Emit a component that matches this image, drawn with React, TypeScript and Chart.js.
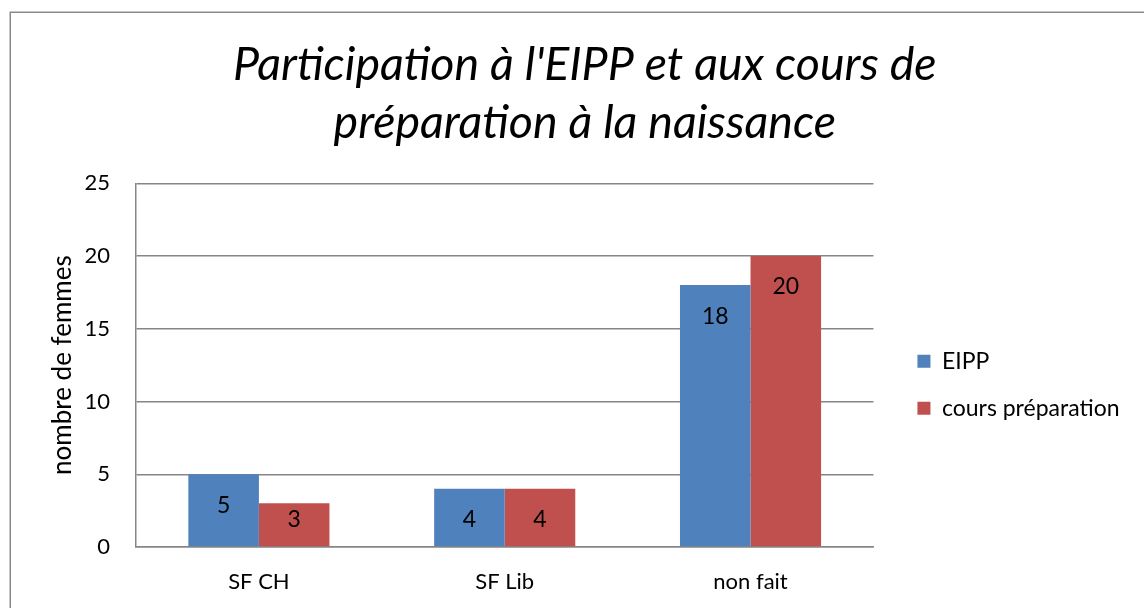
import React, { useEffect, useRef } from 'react';
import { Chart, registerables } from 'chart.js';

Chart.register(...registerables);

const categories = ['SF CH', 'SF Lib', 'non fait'];
const eippValues = [5, 4, 18];
const coursValues = [3, 4, 20];
const seriesLabels = ['EIPP', 'cours préparation'];
const titleLines = ["Participation à l'EIPP et aux cours de", 'préparation à la naissance'];
const yAxisTitle = 'nombre de femmes';

const FONT = 'Lato, "Open Sans", sans-serif';
const GRID = '#868686';

const frame = {
  id: 'frame',
  beforeDraw(chart: any) {
    const ctx = chart.ctx;
    ctx.save();
    ctx.fillStyle = '#ffffff';
    ctx.fillRect(0, 0, chart.width, chart.height);
    ctx.strokeStyle = '#8a8a8a';
    ctx.lineWidth = 1.5;
    ctx.strokeRect(10.25, 12.25, 2000, 2000);
    ctx.restore();
  },
};

const valueLabels = {
  id: 'valueLabels',
  afterDatasetsDraw(chart: any) {
    const ctx = chart.ctx;
    ctx.save();
    ctx.font = `23px ${FONT}`;
    ctx.fillStyle = '#000000';
    ctx.textAlign = 'center';
    ctx.textBaseline = 'middle';
    chart.data.datasets.forEach((ds: any, di: number) => {
      const meta = chart.getDatasetMeta(di);
      meta.data.forEach((el: any, i: number) => {
        const y = Math.min(el.y + 31, el.base - 27);
        ctx.fillText(String(ds.data[i]), el.x, y);
      });
    });
    ctx.restore();
  },
};

export default function App() {
  const ref = useRef<HTMLCanvasElement>(null);
  useEffect(() => {
    const chart = new Chart(ref.current as HTMLCanvasElement, {
      type: 'bar',
      data: {
        labels: categories,
        datasets: [
          { label: seriesLabels[0], data: eippValues, backgroundColor: '#4F81BD', borderWidth: 0 },
          { label: seriesLabels[1], data: coursValues, backgroundColor: '#C0504D', borderWidth: 0 },
        ],
      },
      options: {
        animation: false,
        responsive: false,
        maintainAspectRatio: false,
        layout: { padding: { left: 40, right: 14.5, top: 0, bottom: 0 } },
        datasets: { bar: { categoryPercentage: 0.574, barPercentage: 1 } },
        scales: {
          x: {
            grid: { display: false, drawTicks: false },
            border: { display: true, color: GRID, width: 1.5 },
            ticks: { color: '#000', font: { family: FONT, size: 22 }, padding: 22 },
            afterFit: (s: any) => { s.height = 61; },
          },
          y: {
            min: 0,
            max: 25,
            ticks: { stepSize: 5, color: '#000', font: { family: FONT, size: 22 }, padding: 26 },
            grid: { color: GRID, lineWidth: 1.5, drawTicks: false },
            border: { display: true, color: GRID, width: 1.5 },
            title: { display: true, text: yAxisTitle, color: '#000', font: { family: FONT, size: 26 }, padding: { top: 7.4, bottom: 0 } },
            afterFit: (s: any) => { s.width = 96; },
          },
          yR: {
            position: 'right',
            display: false,
            afterFit: (s: any) => { s.width = 20; },
          },
        },
        plugins: {
          title: {
            display: true,
            text: titleLines,
            color: '#000',
            font: { family: FONT, size: 46.5, style: 'italic', weight: 'normal', lineHeight: 1.25 },
            padding: { top: 36, bottom: 31 },
          },
          legend: {
            position: 'right',
            align: 'start',
            fullSize: false,
            title: { display: true, text: '', font: { size: 10, lineHeight: 1 }, padding: { top: 132.5, bottom: 0 } },
            labels: {
              color: '#000',
              font: { family: FONT, size: 23 },
              boxWidth: 13,
              boxHeight: 13,
              padding: 24,
            },
          },
          tooltip: { enabled: false },
        },
      } as any,
      plugins: [frame, valueLabels],
    });
    return () => chart.destroy();
  }, []);
  return (
    <div style={{ position: 'fixed', left: 0, top: 0, width: 1144, height: 608 }}>
      <canvas ref={ref} width={1144} height={608} style={{ width: 1144, height: 608, display: 'block' }} />
    </div>
  );
}
